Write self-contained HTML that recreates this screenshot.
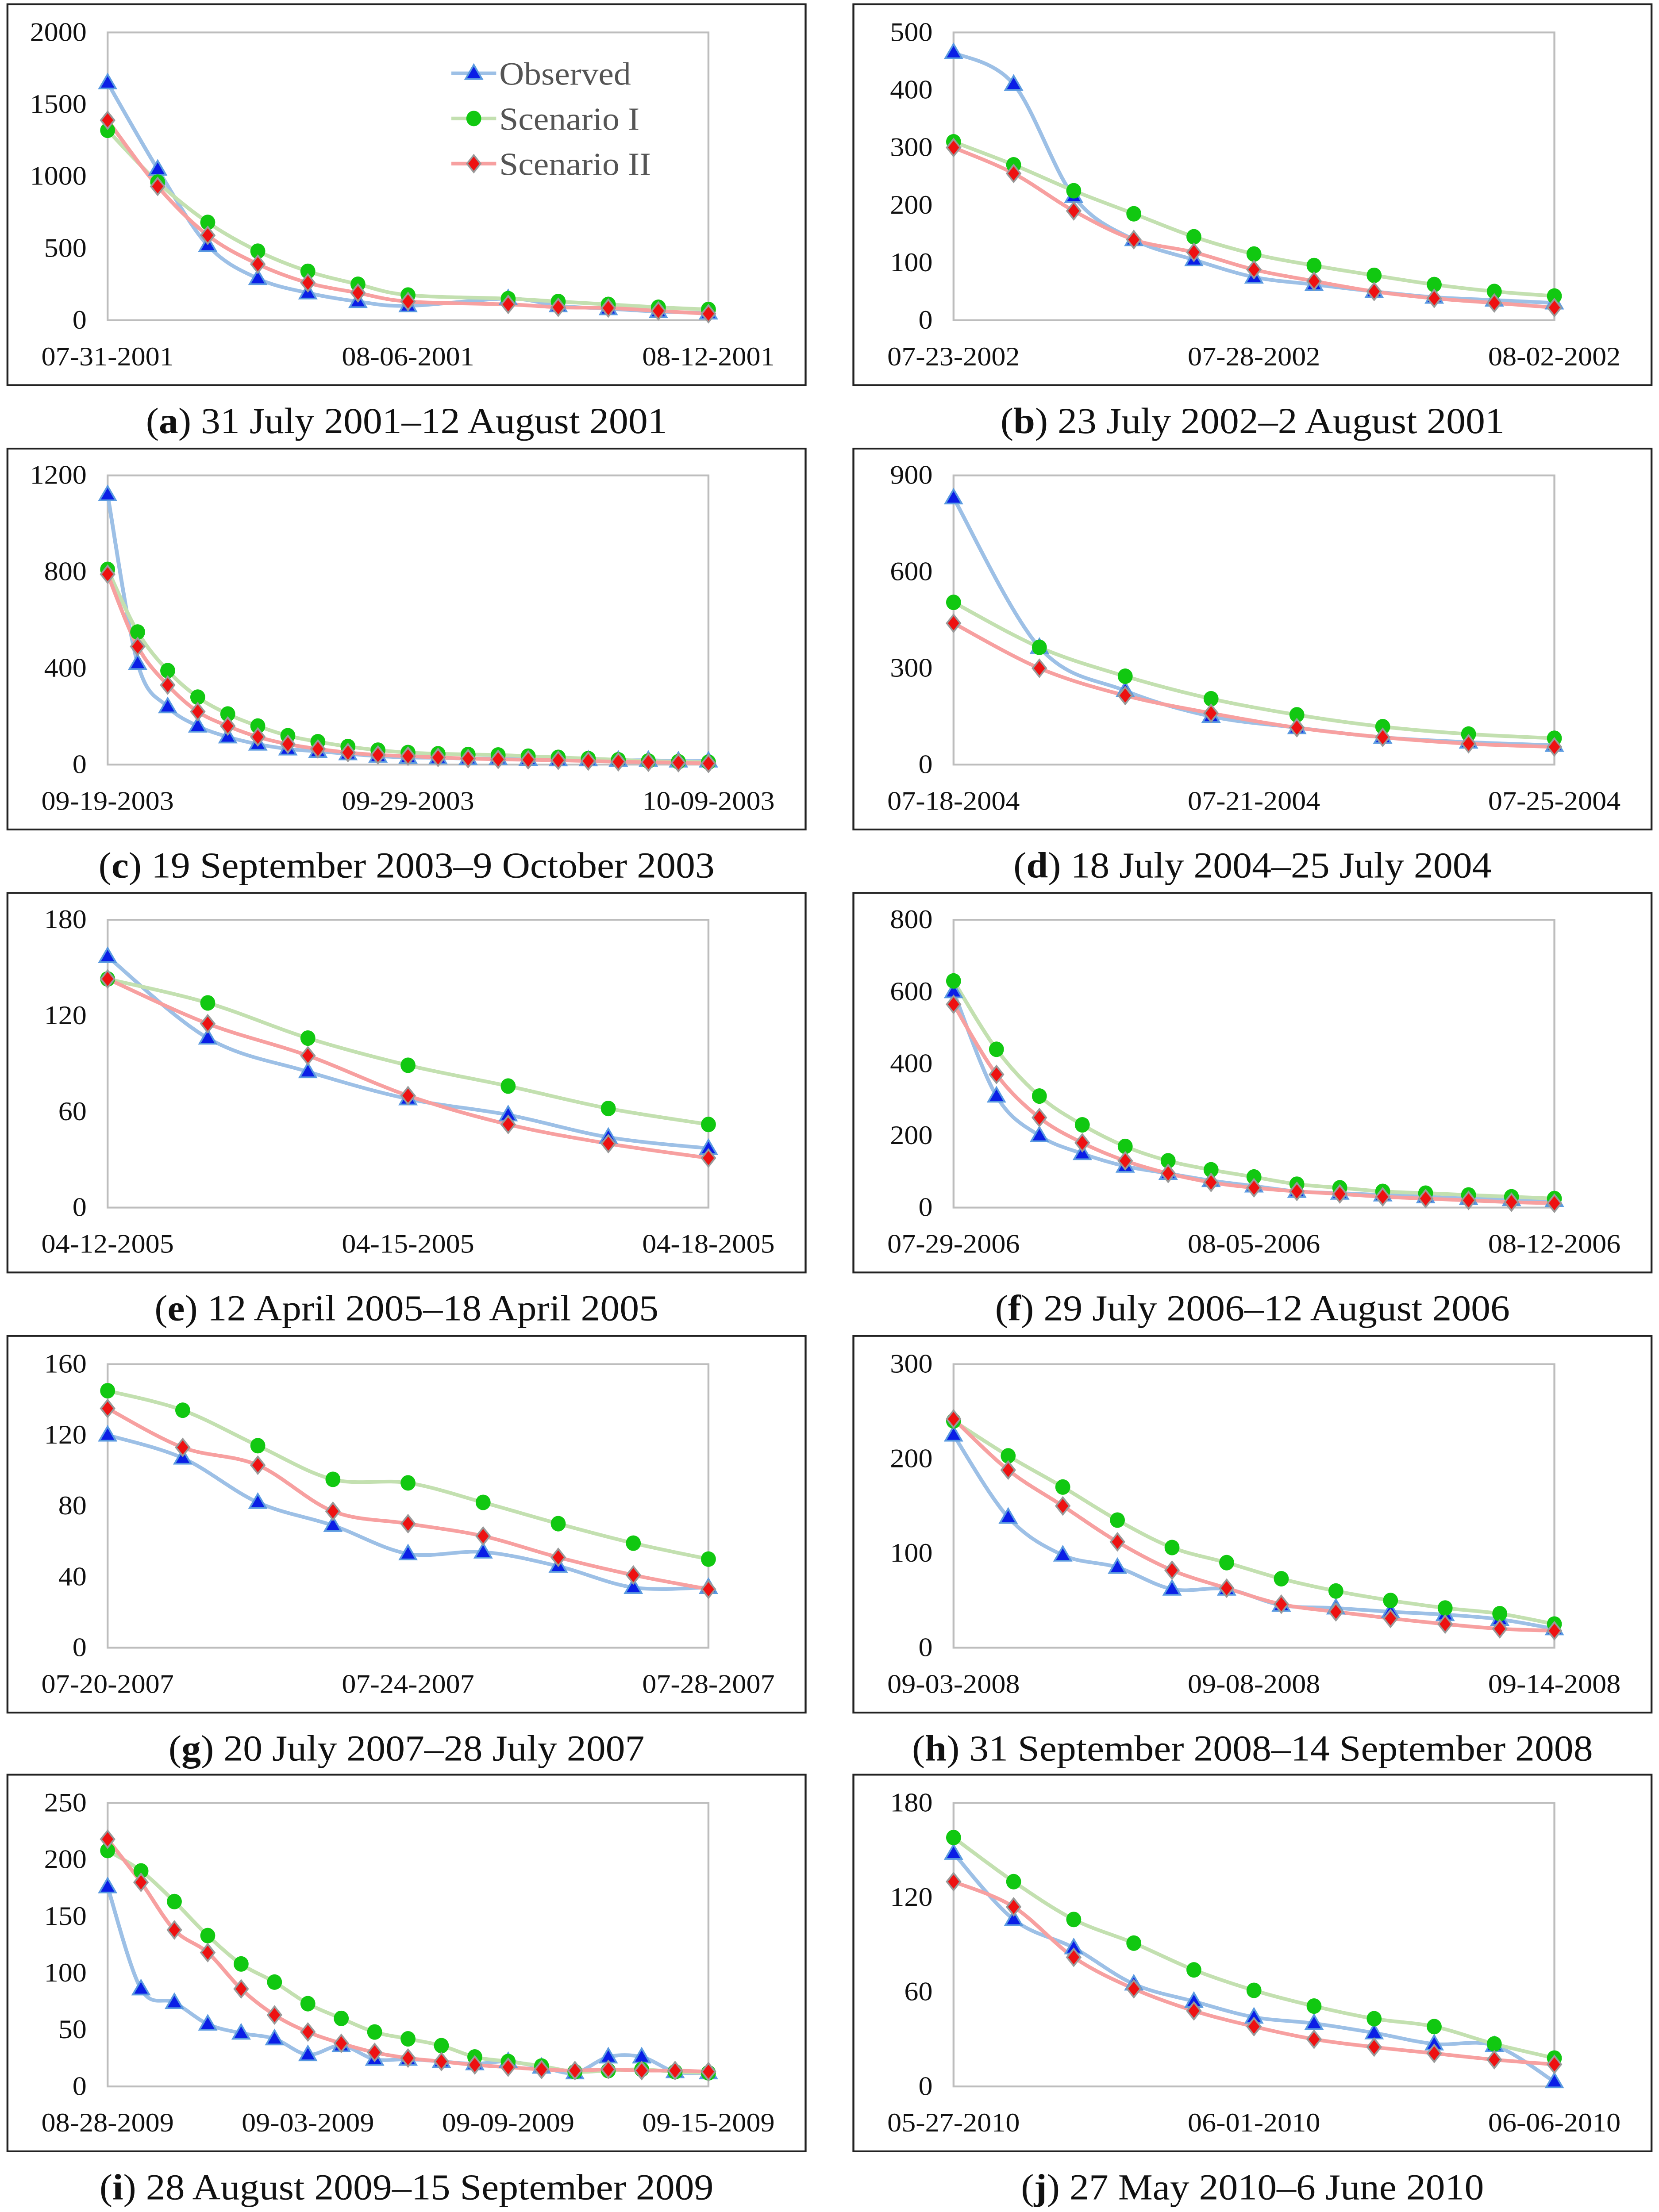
<!DOCTYPE html>
<html><head><meta charset="utf-8"><style>
html,body{margin:0;padding:0;background:#fff;width:100vw;height:100vh;overflow:hidden;}
svg{display:block;position:absolute;left:0;top:0;width:100vw;height:100vh;}
text{font-family:"Liberation Serif",serif;}
</style></head><body>
<svg id="fig" viewBox="0 0 1110 1568" preserveAspectRatio="none" xmlns="http://www.w3.org/2000/svg"></svg>
<script>
const panelIds=["a","b","c","d","e","f","g","h","i","j"];
const captionDates=["31 July 2001–12 August 2001","23 July 2002–2 August 2001","19 September 2003–9 October 2003","18 July 2004–25 July 2004","12 April 2005–18 April 2005","29 July 2006–12 August 2006","20 July 2007–28 July 2007","31 September 2008–14 September 2008","28 August 2009–15 September 2009","27 May 2010–6 June 2010"];
const xTickLabels=[["07-31-2001","08-06-2001","08-12-2001"],["07-23-2002","07-28-2002","08-02-2002"],["09-19-2003","09-29-2003","10-09-2003"],["07-18-2004","07-21-2004","07-25-2004"],["04-12-2005","04-15-2005","04-18-2005"],["07-29-2006","08-05-2006","08-12-2006"],["07-20-2007","07-24-2007","07-28-2007"],["09-03-2008","09-08-2008","09-14-2008"],["08-28-2009","09-03-2009","09-09-2009","09-15-2009"],["05-27-2010","06-01-2010","06-06-2010"]];
const yTicks=[[0,500,1000,1500,2000],[0,100,200,300,400,500],[0,400,800,1200],[0,300,600,900],[0,60,120,180],[0,200,400,600,800],[0,40,80,120,160],[0,100,200,300],[0,50,100,150,200,250],[0,60,120,180]];
const observed=[
[1650,1050,520,290,190,130,100,null,150,100,80,60,50],
[465,410,215,140,105,75,62,50,40,35,30],
[1120,420,240,160,115,85,65,55,45,35,30,28,25,25,22,20,20,18,18,15,15],
[830,365,230,150,115,85,70,60],
[157,106,85,68,58,44,37],
[600,310,200,150,115,95,75,60,45,40,35,30,25,22,20],
[120,107,82,69,53,54,46,34,34],
[225,138,98,85,62,62,45,42,38,35,30,20],
[176,86,74,55,47,42,28,36,24,24,22,20,22,17,12,26,26,13,12],
[148,106,88,65,54,44,40,34,27,26,3]];
const scenario1=[
[1320,960,680,480,340,250,175,null,150,130,110,90,75],
[310,270,225,185,145,115,95,78,62,50,42],
[810,550,390,280,210,160,120,95,75,60,50,45,42,40,35,30,25,20,15,12,10],
[505,365,275,205,155,118,95,82],
[143,128,106,89,76,62,52],
[630,440,310,230,170,130,105,85,65,55,45,40,35,30,25],
[145,134,114,95,93,82,70,59,50],
[240,203,170,135,106,90,73,60,50,42,36,25],
[208,190,163,133,108,92,73,60,48,42,36,26,22,18,13,14,15,13,12],
[158,130,106,91,74,61,51,43,38,27,18]];
const scenario2=[
[1390,930,590,390,260,190,130,null,110,90,85,65,45],
[300,255,190,140,118,88,68,50,38,30,22],
[790,490,330,220,160,115,85,65,50,40,35,30,25,22,20,18,15,12,10,8,5],
[440,300,215,160,115,85,65,55],
[143,115,95,70,52,40,31],
[565,370,250,180,130,95,70,55,45,38,30,25,20,15,12],
[135,113,103,77,70,63,51,41,33],
[242,188,150,112,82,63,46,38,31,25,20,18],
[218,180,138,118,86,63,48,38,30,25,22,19,17,15,14,15,14,14,13],
[130,114,82,62,48,38,30,25,21,17,14]];
const legendLabels=["Observed","Scenario I","Scenario II"];

const NS="http://www.w3.org/2000/svg";
const svg=document.getElementById("fig");
function mk(tag,attrs,parent){const e=document.createElementNS(NS,tag);for(const k in attrs)e.setAttribute(k,attrs[k]);(parent||svg).appendChild(e);return e;}
const boxTops=[3,318,633,947,1258];
const plotTops=[23,337,652,967,1278];
const plotBots=[227,542,856,1168,1479];
const lineCols=["#9dc0e6","#c3e0b0","#f7a0a0"];

function smoothPath(pts){
  let d="";
  for(let s=0;s<pts.length;s++){
    const seg=pts[s];
    if(seg.length===0)continue;
    d+="M"+seg[0][0]+","+seg[0][1];
    for(let i=0;i<seg.length-1;i++){
      const p0=seg[i-1]||seg[i],p1=seg[i],p2=seg[i+1],p3=seg[i+2]||p2;
      const t=0.5/3;
      const c1=[p1[0]+(p2[0]-p0[0])*t,p1[1]+(p2[1]-p0[1])*t];
      const c2=[p2[0]-(p3[0]-p1[0])*t,p2[1]-(p3[1]-p1[1])*t];
      d+="C"+c1[0]+","+c1[1]+" "+c2[0]+","+c2[1]+" "+p2[0]+","+p2[1];
    }
  }
  return d;
}
function marker(g,k,x,y){
  let m;
  if(k===0){m=mk("path",{d:`M${x},${y-6}L${x+5.5},${y+4}L${x-5.5},${y+4}Z`,fill:"#0a1ee6",stroke:"#5a9ae0","stroke-width":1.2},g);}
  else if(k===1){m=mk("ellipse",{cx:x,cy:y,rx:5,ry:5.5,fill:"#11c811"},g);}
  else {m=mk("path",{d:`M${x},${y-6}L${x+4.5},${y}L${x},${y+6}L${x-4.5},${y}Z`,fill:"#ee1111",stroke:"#999","stroke-width":1.2},g);}
  
  
}

panelIds.forEach((id,p)=>{
  const row=Math.floor(p/2),col=p%2;
  const bx=col?571:5, bw=534, by=boxTops[row], bh=plotBots[row]-boxTops[row]+46;
  const g=mk("g",{});
  
  
  const box=mk("rect",{x:bx,y:by,width:bw,height:bh,fill:"none",stroke:"#222","stroke-width":1.3},g);
  
  
  const x0=col?638:72,x1=col?1040:474,y0=plotTops[row],y1=plotBots[row];
  const frame=mk("rect",{x:x0,y:y0,width:x1-x0,height:y1-y0,fill:"none",stroke:"#bdbdbd","stroke-width":1.3},g);
  
  
  const yt=yTicks[p],ymax=yt[yt.length-1];
  const ys=v=>y1-(v/ymax)*(y1-y0);
  const n=observed[p].length;
  const xs=i=>x0+i*(x1-x0)/(n-1);
  yt.forEach(v=>{
    const t=mk("text",{x:x0-14,y:ys(v)+6,"text-anchor":"end","font-size":19,fill:"#111"},g);
    t.textContent=v;
    
    
  });
  const xl=xTickLabels[p];
  xl.forEach((s,i)=>{
    const t=mk("text",{x:x0+i*(x1-x0)/(xl.length-1),y:y1+32,"text-anchor":"middle","font-size":19,fill:"#111"},g);
    t.textContent=s;
    
    
  });
  [observed[p],scenario1[p],scenario2[p]].forEach((ser,k)=>{
    const pts=[];
    ser.forEach((v,i)=>{if(v!==null)pts.push([xs(i),ys(v)]);});
    const line=mk("path",{d:smoothPath([pts]),fill:"none",stroke:lineCols[k],"stroke-width":2.6},g);
    
    
  });
  [observed[p],scenario1[p],scenario2[p]].forEach((ser,k)=>{
    ser.forEach((v,i)=>{if(v!==null)marker(g,k,xs(i),ys(v));});
  });
  const cap=mk("text",{x:bx+bw/2,y:plotBots[row]+80,"text-anchor":"middle","font-size":26,fill:"#111"},g);
  
  
  const t1=mk("tspan",{},cap);t1.textContent="(";
  const b=mk("tspan",{"font-weight":"bold"},cap);b.textContent=id;
  const t2=mk("tspan",{},cap);t2.textContent=") "+captionDates[p];
});
const lg=mk("g",{});


legendLabels.forEach((s,k)=>{
  const y=52+k*32;
  const l=mk("line",{x1:302,x2:332,y1:y,y2:y,stroke:lineCols[k],"stroke-width":2.6},lg);
  
  
  marker(lg,k,317,y);
  const t=mk("text",{x:334,y:y+8,"font-size":23,fill:"#555"},lg);
  t.textContent=s;
  
  
});
</script>
</body></html>
